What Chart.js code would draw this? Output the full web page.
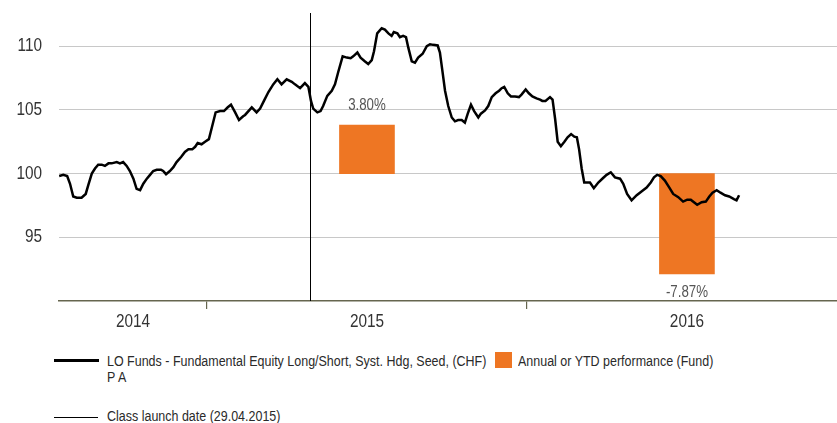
<!DOCTYPE html>
<html>
<head>
<meta charset="utf-8">
<script src="https://cdn.jsdelivr.net/npm/chart.js@4.4.1/dist/chart.umd.min.js"></script>
<style>
  html, body { margin: 0; padding: 0; background: #fff; }
  body { width: 837px; height: 423px; position: relative; overflow: hidden;
         font-family: "Liberation Sans", Arial, sans-serif; }
  #wrap { position: absolute; left: 0; top: 0; width: 837px; height: 330px; }
  .lg { position: absolute; font-size: 15.5px; color: #2a2a2a; line-height: 16px;
        transform: scaleX(0.805); transform-origin: 0 0; white-space: nowrap; }
  .sw { position: absolute; }
</style>
</head>
<body>
<div id="wrap"><canvas id="c"></canvas></div>

<div class="sw" style="left:54px; top:359px; width:45px; height:3px; background:#000;"></div>
<div class="lg" style="left:107px; top:353px;">LO Funds - Fundamental Equity Long/Short, Syst. Hdg, Seed, (CHF)<br>P A</div>
<div class="sw" style="left:495px; top:352px; width:17px; height:16px; background:#ee7623;"></div>
<div class="lg" style="left:518px; top:353px;">Annual or YTD performance (Fund)</div>
<div class="sw" style="left:54px; top:417px; width:44px; height:1px; background:#000;"></div>
<div class="lg" style="left:107px; top:408px;">Class launch date (29.04.2015)</div>

<script>
// ---- data ----
const times = [
2014.538,2014.551,2014.563,2014.572,2014.582,2014.593,2014.608,2014.621,2014.629,2014.640,
2014.650,2014.660,2014.671,2014.681,2014.692,2014.702,2014.718,2014.728,2014.738,2014.749,
2014.759,2014.770,2014.780,2014.791,2014.801,2014.812,2014.822,2014.832,2014.843,2014.856,
2014.863,2014.872,2014.884,2014.895,2014.905,2014.919,2014.931,2014.942,2014.954,2014.963,
2014.971,2014.983,2014.994,2015.006,2015.015,2015.027,2015.041,2015.053,2015.065,2015.075,
2015.088,2015.100,2015.113,2015.119,2015.140,2015.155,2015.166,2015.178,2015.192,2015.207,
2015.220,2015.233,2015.249,2015.265,2015.275,2015.291,2015.306,2015.317,2015.325,2015.332,
2015.345,2015.355,2015.363,2015.376,2015.390,2015.400,2015.410,2015.424,2015.437,2015.449,
2015.457,2015.470,2015.480,2015.494,2015.504,2015.515,2015.522,2015.532,2015.546,2015.556,
2015.567,2015.577,2015.584,2015.595,2015.603,2015.613,2015.622,2015.629,2015.640,2015.650,
2015.660,2015.674,2015.687,2015.697,2015.707,2015.721,2015.728,2015.735,2015.744,2015.754,
2015.765,2015.775,2015.785,2015.796,2015.806,2015.815,2015.825,2015.835,2015.848,2015.856,
2015.869,2015.879,2015.890,2015.902,2015.913,2015.921,2015.929,2015.940,2015.950,2015.963,
2015.975,2015.983,2015.996,2016.006,2016.017,2016.030,2016.041,2016.048,2016.058,2016.072,
2016.080,2016.088,2016.096,2016.106,2016.117,2016.127,2016.138,2016.148,2016.156,2016.163,
2016.171,2016.179,2016.190,2016.197,2016.209,2016.223,2016.238,2016.249,2016.262,2016.275,
2016.291,2016.301,2016.313,2016.327,2016.343,2016.358,2016.374,2016.387,2016.397,2016.407,
2016.418,2016.431,2016.445,2016.457,2016.473,2016.488,2016.501,2016.512,2016.522,2016.532,
2016.546,2016.559,2016.570,2016.580,2016.593,2016.605,2016.619,2016.632,2016.647,2016.655,
2016.663
];
const fundValues = [
99.8,99.9,99.8,99.2,98.2,98.1,98.1,98.4,99.1,100.0,
100.4,100.7,100.7,100.6,100.8,100.8,100.9,100.8,100.9,100.6,
100.2,99.6,98.8,98.7,99.2,99.6,99.9,100.2,100.3,100.3,
100.2,99.95,100.2,100.5,100.9,101.3,101.7,101.9,101.9,102.1,
102.4,102.3,102.5,102.7,103.6,104.8,104.9,104.9,105.2,105.4,
104.8,104.2,104.5,104.6,105.2,104.8,105.1,105.7,106.4,107.0,
107.4,107.0,107.4,107.2,107.0,106.7,107.1,106.8,105.7,105.1,
104.8,104.9,105.3,106.1,106.5,107.0,107.95,109.2,109.1,109.05,
109.2,109.5,109.1,108.8,108.6,108.9,109.6,111.0,111.4,111.3,
111.0,110.8,111.1,111.0,110.7,110.8,110.7,109.9,108.8,108.7,
109.1,109.4,110.0,110.15,110.1,110.05,109.5,108.2,106.5,105.3,
104.4,104.1,104.2,104.2,104.0,104.7,105.4,104.9,104.4,104.7,
104.95,105.3,106.0,106.3,106.5,106.7,106.8,106.3,106.05,106.05,
106.0,106.2,106.6,106.3,106.05,105.9,105.8,105.7,105.7,106.0,
105.8,104.3,102.5,102.15,102.5,102.85,103.1,102.9,102.85,101.9,
100.4,99.3,99.3,99.3,98.85,99.3,99.65,99.9,100.1,99.7,
99.6,99.2,98.4,97.9,98.3,98.6,98.9,99.3,99.7,99.9,
99.8,99.45,98.9,98.4,98.15,97.8,97.95,97.95,97.75,97.55,
97.75,97.8,98.2,98.5,98.7,98.5,98.3,98.2,98.0,97.9,
98.3
];
const perfYears = [2015, 2016];
const perfValues = [3.80, -7.87];          // annual / YTD performance in %
const perfLabels = ['3.80%', '-7.87%'];
const yearLabels = ['2014', '2015', '2016'];
const launchDate = 2015 + 118 / 365;       // 29.04.2015
const yTicks = [95, 100, 105, 110];
const baseValue = 100;
const xMin = 2014.5375, xMax = 2016.969, yMin = 90, yMax = 112.6;

const FONT = '"Liberation Sans", Arial, sans-serif';
const SQUEEZE = 0.83;

const lineData = times.map((t, i) => ({ x: t, y: fundValues[i] }));
const barData = perfYears.map((yr, i) => ({ x: yr + 0.5, y: [baseValue, baseValue + perfValues[i]] }));
const yearCenters = [(xMin + 2015) / 2, 2015.5, 2016.5];
const yearBounds = [2015, 2016];

function narrowText(ctx, txt, x, y, align) {
  ctx.save();
  ctx.translate(x, y);
  ctx.scale(SQUEEZE, 1);
  ctx.textAlign = align;
  ctx.fillText(txt, 0, 0);
  ctx.restore();
}

const overlay = {
  id: 'overlay',
  beforeDatasetsDraw(chart) {
    const { ctx, chartArea, scales } = chart;
    const x = Math.round(scales.x.getPixelForValue(launchDate)) + 0.5;
    ctx.save();
    ctx.strokeStyle = '#000';
    ctx.lineWidth = 1;
    ctx.beginPath();
    ctx.moveTo(x, chartArea.top);
    ctx.lineTo(x, chartArea.bottom);
    ctx.stroke();
    ctx.restore();
  },
  afterDatasetsDraw(chart) {
    const { ctx, scales, chartArea } = chart;
    ctx.save();
    ctx.textBaseline = 'middle';
    // bar labels
    ctx.font = '16px ' + FONT;
    ctx.fillStyle = '#555';
    perfYears.forEach((yr, i) => {
      const px = scales.x.getPixelForValue(yr + 0.5);
      const py = scales.y.getPixelForValue(baseValue + perfValues[i]);
      narrowText(ctx, perfLabels[i], px, perfValues[i] >= 0 ? py - 20 : py + 19, 'center');
    });
    // y tick labels
    ctx.font = '18.5px ' + FONT;
    ctx.fillStyle = '#333';
    yTicks.forEach(v => narrowText(ctx, String(v), chartArea.left - 17, scales.y.getPixelForValue(v), 'right'));
    // year labels
    yearCenters.forEach((v, i) => narrowText(ctx, yearLabels[i], scales.x.getPixelForValue(v), chartArea.bottom + 21, 'center'));
    ctx.restore();
  }
};

new Chart(document.getElementById('c'), {
  type: 'line',
  data: {
    datasets: [
      { type: 'line', data: lineData, borderColor: '#000', borderWidth: 2.5,
        pointRadius: 0, tension: 0, fill: false, order: 0 },
      { type: 'bar', data: barData, backgroundColor: '#ee7623', borderWidth: 0,
        barThickness: 55, order: 1 }
    ]
  },
  options: {
    responsive: true,
    maintainAspectRatio: false,
    animation: false,
    layout: { padding: { top: 13, left: 0, right: 0, bottom: 0 } },
    plugins: { legend: { display: false }, tooltip: { enabled: false } },
    scales: {
      x: {
        type: 'linear', min: xMin, max: xMax, offset: false,
        afterBuildTicks: (s) => { s.ticks = yearBounds.map(v => ({ value: v })); },
        afterFit: (s) => { s.height = 29; s.paddingLeft = 0; s.paddingRight = 0; },
        border: { display: true, color: '#66664f', width: 1.5 },
        grid: { offset: false, drawOnChartArea: false, drawTicks: true, tickLength: 8,
                lineWidth: 1.2, color: '#66664f' },
        ticks: { display: false }
      },
      y: {
        min: yMin, max: yMax,
        afterBuildTicks: (s) => { s.ticks = yTicks.map(v => ({ value: v })); },
        afterFit: (s) => { s.width = 59; s.paddingTop = 0; s.paddingBottom = 0; },
        border: { display: false },
        grid: { offset: false, color: '#c8c8c8', lineWidth: 1, drawTicks: false },
        ticks: { display: false }
      }
    }
  },
  plugins: [overlay]
});
</script>
</body>
</html>
